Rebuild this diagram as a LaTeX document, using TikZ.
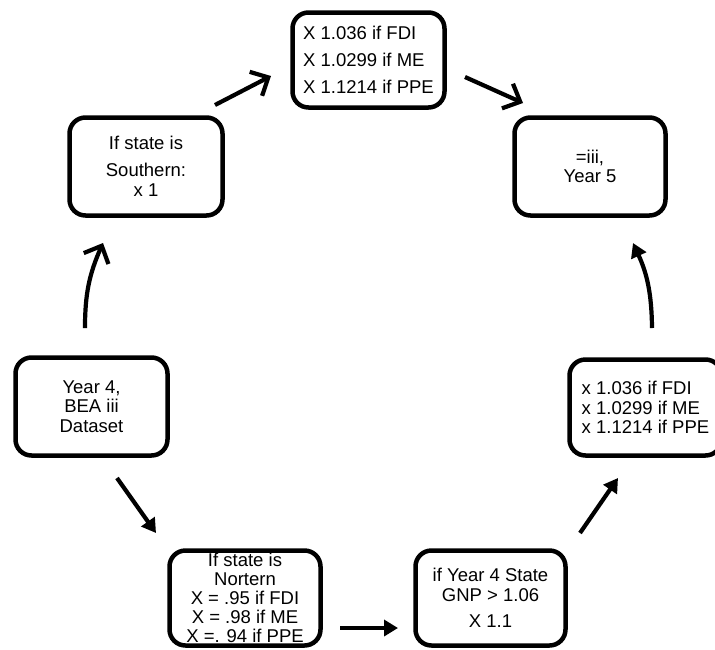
\documentclass[tikz,border=0pt]{standalone}
\usepackage{fontspec}
\setmainfont{Liberation Sans}
\usetikzlibrary{arrows.meta}
\begin{document}
\begin{tikzpicture}[x=1pt,y=-1pt,
  box/.style={draw, line width=4.5pt, rounded corners=16pt, inner sep=0pt,
    align=center, font=\fontsize{18.5}{19.5}\selectfont},
  openarr/.style={line width=4.2pt, -{Straight Barb[length=14pt,width=27pt]}},
  solidarr/.style={line width=4.2pt, -{Triangle[length=14pt,width=16pt]}}
]
\useasboundingbox (0,0) rectangle (715,649);
\clip (0,0) rectangle (715,649);

\node[box, minimum width=152pt, minimum height=95pt, align=left,
  font=\fontsize{18.5}{27}\selectfont] (mult) at (368.5,60)
  {X 1.036 if FDI\\X 1.0299 if ME\\X 1.1214 if PPE};
\node[box, minimum width=151pt, minimum height=98pt] (year5) at (590,166.5)
  {=iii,\\Year 5};
\node[box, minimum width=153pt, minimum height=98pt,
  font=\fontsize{18.5}{20}\selectfont] (south) at (146,166.5)
  {If state is\\[7pt]Southern:\\x 1};
\node[box, minimum width=152pt, minimum height=98pt] (year4) at (91.5,406.5)
  {Year 4,\\BEA iii\\Dataset};
\node[box, minimum width=151pt, minimum height=95pt,
  font=\fontsize{18.5}{19}\selectfont] (north) at (245,598)
  {If state is\\Nortern\\X = .95 if FDI\\X = .98 if ME\\X =. 94 if PPE};
\node[box, minimum width=150pt, minimum height=95pt,
  font=\fontsize{18.5}{20}\selectfont] (gnp) at (490.5,598)
  {if Year 4 State\\GNP > 1.06\\[6pt]X 1.1};
\node[box, minimum width=152pt, minimum height=96pt, align=left] (right) at (645.5,407.5)
  {x 1.036 if FDI\\x 1.0299 if ME\\x 1.1214 if PPE};

\coordinate (a1s) at (85,328);  \coordinate (a1e) at (103,243);
\coordinate (a2s) at (215,105); \coordinate (a2e) at (271,76);
\coordinate (a3s) at (465,77);  \coordinate (a3e) at (523,103);
\coordinate (a4s) at (652,328); \coordinate (a4e) at (633,243);
\coordinate (a5s) at (580,533); \coordinate (a5e) at (618,478);
\coordinate (a6s) at (340,628); \coordinate (a6e) at (398,628);
\coordinate (a7s) at (117,478); \coordinate (a7e) at (156,533);

\draw[openarr] (a1s) to[bend left=12] (a1e);
\draw[openarr] (a2s) -- (a2e);
\draw[openarr] (a3s) -- (a3e);
\draw[solidarr] (a4s) to[bend right=12] (a4e);
\draw[solidarr] (a5s) -- (a5e);
\draw[solidarr] (a6s) -- (a6e);
\draw[solidarr] (a7s) -- (a7e);
\end{tikzpicture}
\end{document}
